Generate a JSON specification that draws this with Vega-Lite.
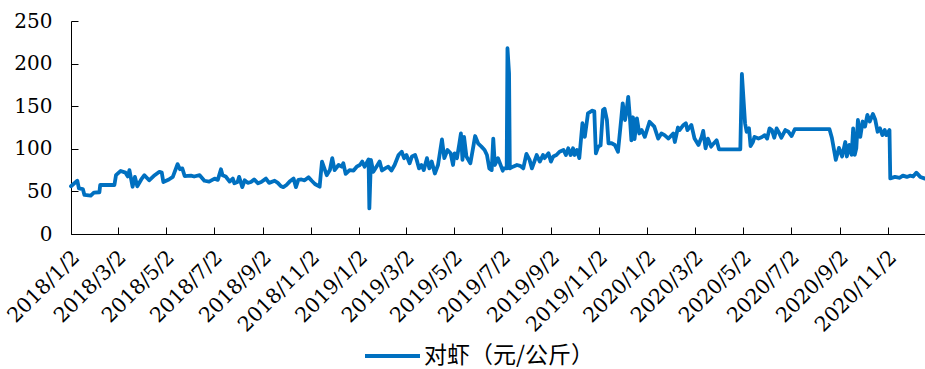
{
  "$schema": "https://vega.github.io/schema/vega-lite/v6.json",
  "width": 854,
  "height": 213,
  "autosize": {"type": "none"},
  "padding": {"left": 71, "top": 21, "right": 0, "bottom": 135},
  "background": "white",
  "config": {"view": {"stroke": null}},
  "data": {"values": [
    {"date":"2018-01-02","price":56},{"date":"2018-01-10","price":62.6},{"date":"2018-01-12","price":53.6},{"date":"2018-01-17","price":52.8},{"date":"2018-01-19","price":45.8},{"date":"2018-01-27","price":45},{"date":"2018-01-31","price":48.5},{"date":"2018-02-07","price":49},{"date":"2018-02-08","price":57.5},{"date":"2018-02-26","price":57.5},{"date":"2018-02-28","price":69},{"date":"2018-03-06","price":74},{"date":"2018-03-12","price":72},{"date":"2018-03-15","price":67.5},{"date":"2018-03-17","price":75},{"date":"2018-03-21","price":55.5},{"date":"2018-03-24","price":67},{"date":"2018-03-27","price":56},{"date":"2018-04-01","price":64},{"date":"2018-04-05","price":69},{"date":"2018-04-11","price":63},{"date":"2018-04-18","price":69},{"date":"2018-04-24","price":73},{"date":"2018-04-27","price":72},{"date":"2018-04-29","price":61},{"date":"2018-05-06","price":64},{"date":"2018-05-11","price":67},{"date":"2018-05-17","price":82},{"date":"2018-05-20","price":76},{"date":"2018-05-23","price":77},{"date":"2018-05-26","price":68},{"date":"2018-06-03","price":68.5},{"date":"2018-06-07","price":67.5},{"date":"2018-06-14","price":69},{"date":"2018-06-20","price":62.5},{"date":"2018-06-26","price":61.5},{"date":"2018-07-03","price":65},{"date":"2018-07-07","price":63.5},{"date":"2018-07-11","price":76},{"date":"2018-07-13","price":69},{"date":"2018-07-17","price":67.5},{"date":"2018-07-22","price":61.5},{"date":"2018-07-26","price":65},{"date":"2018-07-28","price":59.5},{"date":"2018-08-01","price":61},{"date":"2018-08-03","price":67},{"date":"2018-08-07","price":55},{"date":"2018-08-10","price":63},{"date":"2018-08-14","price":60},{"date":"2018-08-18","price":61},{"date":"2018-08-22","price":64},{"date":"2018-08-27","price":59.5},{"date":"2018-08-31","price":61},{"date":"2018-09-06","price":65},{"date":"2018-09-10","price":60},{"date":"2018-09-17","price":62.5},{"date":"2018-09-21","price":60},{"date":"2018-09-25","price":56},{"date":"2018-09-28","price":55},{"date":"2018-10-02","price":57.5},{"date":"2018-10-06","price":61.5},{"date":"2018-10-11","price":65},{"date":"2018-10-14","price":55},{"date":"2018-10-17","price":63.5},{"date":"2018-10-21","price":64},{"date":"2018-10-25","price":63},{"date":"2018-10-30","price":66.5},{"date":"2018-11-03","price":62.5},{"date":"2018-11-07","price":58.7},{"date":"2018-11-13","price":55.5},{"date":"2018-11-16","price":85},{"date":"2018-11-22","price":69},{"date":"2018-11-26","price":75},{"date":"2018-11-29","price":89},{"date":"2018-12-02","price":75},{"date":"2018-12-07","price":81},{"date":"2018-12-11","price":79},{"date":"2018-12-13","price":83},{"date":"2018-12-16","price":70.5},{"date":"2018-12-21","price":75},{"date":"2018-12-26","price":74.5},{"date":"2018-12-30","price":79},{"date":"2019-01-03","price":81},{"date":"2019-01-06","price":85},{"date":"2019-01-09","price":79},{"date":"2019-01-14","price":87.6},{"date":"2019-01-15","price":30},{"date":"2019-01-17","price":87},{"date":"2019-01-20","price":73},{"date":"2019-01-24","price":79},{"date":"2019-01-28","price":85},{"date":"2019-01-31","price":74.5},{"date":"2019-02-04","price":77},{"date":"2019-02-08","price":79},{"date":"2019-02-12","price":74.5},{"date":"2019-02-16","price":81},{"date":"2019-02-21","price":92.7},{"date":"2019-02-25","price":96.6},{"date":"2019-02-28","price":89},{"date":"2019-03-03","price":92.7},{"date":"2019-03-07","price":83},{"date":"2019-03-10","price":91},{"date":"2019-03-14","price":92.7},{"date":"2019-03-16","price":87},{"date":"2019-03-19","price":77},{"date":"2019-03-22","price":81},{"date":"2019-03-25","price":75},{"date":"2019-03-29","price":89},{"date":"2019-04-01","price":77},{"date":"2019-04-04","price":85},{"date":"2019-04-08","price":71},{"date":"2019-04-12","price":81},{"date":"2019-04-17","price":111},{"date":"2019-04-20","price":89},{"date":"2019-04-24","price":98.6},{"date":"2019-04-28","price":94.7},{"date":"2019-05-01","price":81},{"date":"2019-05-03","price":94.7},{"date":"2019-05-06","price":89},{"date":"2019-05-09","price":106},{"date":"2019-05-11","price":118},{"date":"2019-05-13","price":87},{"date":"2019-05-15","price":114},{"date":"2019-05-18","price":91},{"date":"2019-05-23","price":83},{"date":"2019-05-27","price":104},{"date":"2019-05-29","price":115},{"date":"2019-06-02","price":106},{"date":"2019-06-06","price":102.5},{"date":"2019-06-10","price":98.6},{"date":"2019-06-13","price":92.7},{"date":"2019-06-16","price":77},{"date":"2019-06-19","price":75},{"date":"2019-06-21","price":112},{"date":"2019-06-23","price":81},{"date":"2019-06-27","price":89},{"date":"2019-07-03","price":74.3},{"date":"2019-07-04","price":77},{"date":"2019-07-08","price":77},{"date":"2019-07-09","price":218},{"date":"2019-07-11","price":188.6},{"date":"2019-07-12","price":77},{"date":"2019-07-16","price":79},{"date":"2019-07-21","price":81},{"date":"2019-07-25","price":80},{"date":"2019-07-29","price":77},{"date":"2019-08-02","price":94},{"date":"2019-08-06","price":87},{"date":"2019-08-09","price":77},{"date":"2019-08-15","price":92.7},{"date":"2019-08-19","price":85},{"date":"2019-08-23","price":92.7},{"date":"2019-08-25","price":89},{"date":"2019-08-30","price":94.7},{"date":"2019-09-02","price":85},{"date":"2019-09-05","price":91},{"date":"2019-09-09","price":92.7},{"date":"2019-09-13","price":96.6},{"date":"2019-09-18","price":98.6},{"date":"2019-09-21","price":92.7},{"date":"2019-09-24","price":100.6},{"date":"2019-09-27","price":92.7},{"date":"2019-09-30","price":100.6},{"date":"2019-10-02","price":92.7},{"date":"2019-10-05","price":98.6},{"date":"2019-10-08","price":89},{"date":"2019-10-12","price":130},{"date":"2019-10-15","price":114},{"date":"2019-10-19","price":141.6},{"date":"2019-10-24","price":144.7},{"date":"2019-10-27","price":144},{"date":"2019-10-29","price":94.7},{"date":"2019-11-01","price":102.5},{"date":"2019-11-04","price":104},{"date":"2019-11-07","price":145.5},{"date":"2019-11-09","price":147},{"date":"2019-11-12","price":133.8},{"date":"2019-11-14","price":106.5},{"date":"2019-11-18","price":106.5},{"date":"2019-11-22","price":104.5},{"date":"2019-11-26","price":96.6},{"date":"2019-11-30","price":133.8},{"date":"2019-12-02","price":153.4},{"date":"2019-12-05","price":133.8},{"date":"2019-12-07","price":145.5},{"date":"2019-12-09","price":161},{"date":"2019-12-11","price":137.7},{"date":"2019-12-13","price":110},{"date":"2019-12-15","price":137},{"date":"2019-12-17","price":111.5},{"date":"2019-12-20","price":135.8},{"date":"2019-12-23","price":118},{"date":"2019-12-26","price":122},{"date":"2019-12-30","price":114},{"date":"2020-01-05","price":131.8},{"date":"2020-01-11","price":126},{"date":"2020-01-16","price":112},{"date":"2020-01-20","price":118},{"date":"2020-01-24","price":116},{"date":"2020-01-29","price":112},{"date":"2020-02-04","price":118},{"date":"2020-02-06","price":108},{"date":"2020-02-10","price":125},{"date":"2020-02-12","price":122},{"date":"2020-02-17","price":128},{"date":"2020-02-20","price":130},{"date":"2020-02-22","price":122},{"date":"2020-02-27","price":128},{"date":"2020-03-02","price":112},{"date":"2020-03-07","price":104.5},{"date":"2020-03-11","price":114},{"date":"2020-03-13","price":121},{"date":"2020-03-16","price":100.6},{"date":"2020-03-19","price":112},{"date":"2020-03-23","price":102.5},{"date":"2020-03-26","price":106},{"date":"2020-03-30","price":110},{"date":"2020-04-02","price":99.4},{"date":"2020-04-29","price":99.4},{"date":"2020-05-01","price":187.8},{"date":"2020-05-05","price":130},{"date":"2020-05-07","price":120},{"date":"2020-05-10","price":124},{"date":"2020-05-12","price":103.3},{"date":"2020-05-15","price":108},{"date":"2020-05-17","price":114},{"date":"2020-05-22","price":112},{"date":"2020-05-26","price":113.5},{"date":"2020-05-30","price":116},{"date":"2020-06-02","price":112},{"date":"2020-06-05","price":124},{"date":"2020-06-08","price":122},{"date":"2020-06-11","price":113},{"date":"2020-06-14","price":124},{"date":"2020-06-17","price":119},{"date":"2020-06-20","price":113},{"date":"2020-06-25","price":122},{"date":"2020-06-29","price":120},{"date":"2020-07-03","price":115},{"date":"2020-07-07","price":123},{"date":"2020-08-20","price":123},{"date":"2020-08-23","price":113},{"date":"2020-08-28","price":87},{"date":"2020-09-01","price":101},{"date":"2020-09-05","price":91},{"date":"2020-09-09","price":108},{"date":"2020-09-11","price":91},{"date":"2020-09-14","price":104.5},{"date":"2020-09-17","price":93},{"date":"2020-09-19","price":124},{"date":"2020-09-21","price":93},{"date":"2020-09-23","price":101},{"date":"2020-09-25","price":133.8},{"date":"2020-09-28","price":114},{"date":"2020-10-01","price":132},{"date":"2020-10-04","price":126},{"date":"2020-10-07","price":139.7},{"date":"2020-10-10","price":132},{"date":"2020-10-14","price":140.8},{"date":"2020-10-17","price":134},{"date":"2020-10-20","price":120},{"date":"2020-10-23","price":124},{"date":"2020-10-26","price":116},{"date":"2020-10-29","price":122},{"date":"2020-10-31","price":116},{"date":"2020-11-04","price":122},{"date":"2020-11-05","price":65.3},{"date":"2020-11-11","price":67},{"date":"2020-11-17","price":66},{"date":"2020-11-21","price":68.5},{"date":"2020-11-26","price":67},{"date":"2020-11-30","price":68.5},{"date":"2020-12-04","price":67.5},{"date":"2020-12-08","price":72},{"date":"2020-12-13","price":67},{"date":"2020-12-19","price":65}
  ]},
  "mark": {"type": "line", "strokeWidth": 3.8, "interpolate": "linear", "strokeJoin": "round", "strokeCap": "round"},
  "encoding": {
    "x": {
      "field": "date", "type": "temporal",
      "scale": {"type": "utc", "domain": [{"year": 2018, "month": 1, "date": 2, "utc": true}, {"year": 2020, "month": 12, "date": 19, "utc": true}]},
      "axis": {
        "title": null, "grid": false,
        "values": [
          {"year": 2018, "month": 1, "date": 2, "utc": true}, {"year": 2018, "month": 3, "date": 2, "utc": true}, {"year": 2018, "month": 5, "date": 2, "utc": true}, {"year": 2018, "month": 7, "date": 2, "utc": true}, {"year": 2018, "month": 9, "date": 2, "utc": true}, {"year": 2018, "month": 11, "date": 2, "utc": true},
          {"year": 2019, "month": 1, "date": 2, "utc": true}, {"year": 2019, "month": 3, "date": 2, "utc": true}, {"year": 2019, "month": 5, "date": 2, "utc": true}, {"year": 2019, "month": 7, "date": 2, "utc": true}, {"year": 2019, "month": 9, "date": 2, "utc": true}, {"year": 2019, "month": 11, "date": 2, "utc": true},
          {"year": 2020, "month": 1, "date": 2, "utc": true}, {"year": 2020, "month": 3, "date": 2, "utc": true}, {"year": 2020, "month": 5, "date": 2, "utc": true}, {"year": 2020, "month": 7, "date": 2, "utc": true}, {"year": 2020, "month": 9, "date": 2, "utc": true}, {"year": 2020, "month": 11, "date": 2, "utc": true}
        ],
        "labelExpr": "utcFormat(datum.value, '%Y/%-m/%-d')",
        "labelAngle": -45, "labelAlign": "right", "labelBaseline": "middle",
        "labelFont": "DejaVu Serif", "labelFontSize": 20.5, "labelColor": "black",
        "labelPadding": 27, "labelOffset": 5, "labelOverlap": false, "labelFlush": false, "labelBound": false,
        "domainColor": "black", "domainWidth": 1,
        "tickColor": "black", "tickSize": -7, "tickWidth": 1
      }
    },
    "y": {
      "field": "price", "type": "quantitative",
      "scale": {"domain": [0, 250], "nice": false, "zero": true},
      "axis": {
        "title": null, "grid": false, "values": [0, 50, 100, 150, 200, 250],
        "labelFont": "DejaVu Serif", "labelFontSize": 20, "labelColor": "black",
        "labelPadding": 26, "labelFlush": false, "labelBound": false,
        "domainColor": "black", "domainWidth": 1,
        "tickColor": "black", "tickSize": -7, "tickWidth": 1
      }
    },
    "color": {
      "datum": "对虾（元/公斤）",
      "scale": {"range": ["#0070C0"]},
      "legend": {
        "title": null, "orient": "none", "legendX": 292, "legendY": 323,
        "direction": "horizontal", "padding": 0, "clipHeight": 24,
        "symbolType": "stroke", "symbolSize": 3025, "symbolStrokeWidth": 4,
        "labelFont": "Noto Sans CJK SC", "labelFontSize": 23, "labelColor": "black", "labelOffset": 2, "labelLimit": 400
      }
    }
  }
}
